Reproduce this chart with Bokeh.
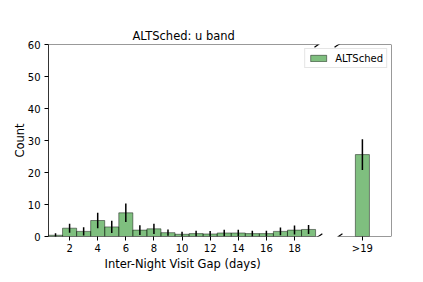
from bokeh.plotting import figure
from bokeh.models import Range1d, FixedTicker, Title, Arrow, ColumnDataSource
from bokeh.embed import file_html
from bokeh.resources import INLINE

# ---- data ----
gap_days = [1, 2, 3, 4, 5, 6, 7, 8, 9, 10, 11, 12, 13, 14, 15, 16, 17, 18, 19]
counts = [0.4, 2.6, 1.6, 5.0, 3.0, 7.4, 2.0, 2.4, 1.2, 0.7, 0.9, 0.8, 1.1, 1.1, 0.9, 0.9, 1.6, 2.0, 2.2]
count_err = [0.6, 1.4, 1.3, 2.4, 1.9, 2.9, 1.5, 1.6, 1.0, 0.8, 0.9, 0.9, 1.0, 1.0, 0.9, 0.9, 1.2, 1.4, 1.4]
over_label = ">19"
over_count = [25.6]
over_err = [4.8]
x_ticks = [2, 4, 6, 8, 10, 12, 14, 16, 18]
y_ticks = [0, 10, 20, 30, 40, 50, 60]

# ---- layout of the broken axis (data units) ----
LEFT_MIN, LEFT_MAX = 0.5, 19.7      # left panel
RIGHT_MIN, RIGHT_MAX = 21.13, 24.9  # right panel
OVER_POS = 22.83                    # position of the overflow bin
Y_MIN, Y_MAX = 0, 60
FONT = "DejaVu Sans"

p = figure(width=423, height=282, output_backend="svg", toolbar_location=None,
           x_range=Range1d(LEFT_MIN, RIGHT_MAX), y_range=Range1d(Y_MIN, Y_MAX),
           min_border_left=48, min_border_right=32, min_border_top=44, min_border_bottom=46)
p.outline_line_color = None
p.grid.visible = False
p.background_fill_color = "white"
p.border_fill_color = "white"

src = ColumnDataSource(dict(x=gap_days, top=counts,
                            lo=[c - e for c, e in zip(counts, count_err)],
                            hi=[c + e for c, e in zip(counts, count_err)]))
osrc = ColumnDataSource(dict(x=[OVER_POS], top=over_count,
                             lo=[c - e for c, e in zip(over_count, over_err)],
                             hi=[c + e for c, e in zip(over_count, over_err)]))

bar_kw = dict(width=1.0, bottom=0, fill_color="green", fill_alpha=0.5,
              line_color="black", line_alpha=0.45, line_width=1)
p.vbar(x="x", top="top", source=src, legend_label="ALTSched", **bar_kw)
p.vbar(x="x", top="top", source=osrc, **bar_kw)
p.segment(x0="x", y0="lo", x1="x", y1="hi", source=src, line_color="black", line_width=1.5)
p.segment(x0="x", y0="lo", x1="x", y1="hi", source=osrc, line_color="black", line_width=1.5)

# axes
xa = p.xaxis[0]
xa.ticker = FixedTicker(ticks=x_ticks + [OVER_POS])
xa.major_label_overrides = {OVER_POS: over_label}
xa.axis_line_color = None
xa.minor_tick_line_color = None
xa.major_tick_in = 0
xa.major_tick_out = 4
xa.major_tick_line_color = "black"
xa.major_label_standoff = 2
xa.major_label_text_font = FONT
xa.major_label_text_font_size = "10px"
xa.major_label_text_color = "black"

ya = p.yaxis[0]
ya.ticker = FixedTicker(ticks=y_ticks)
ya.axis_line_color = "black"
ya.axis_line_width = 0.8
ya.minor_tick_line_color = None
ya.major_tick_in = 0
ya.major_tick_out = 4
ya.major_tick_line_color = "black"
ya.major_label_standoff = 4
ya.major_label_text_font = FONT
ya.major_label_text_font_size = "10px"
ya.major_label_text_color = "black"
ya.axis_label = "Count"
ya.axis_label_text_font = FONT
ya.axis_label_text_font_size = "11.5px"
ya.axis_label_text_font_style = "normal"
ya.axis_label_text_color = "black"
ya.axis_label_standoff = -2

# spines of the two panels
spine = dict(end=None, line_color="black", line_width=0.8)
for (x0, y0, x1, y1) in [(LEFT_MIN, Y_MAX, LEFT_MAX, Y_MAX), (LEFT_MIN, Y_MIN, LEFT_MAX, Y_MIN),
                         (RIGHT_MIN, Y_MAX, RIGHT_MAX, Y_MAX), (RIGHT_MIN, Y_MIN, RIGHT_MAX, Y_MIN),
                         (RIGHT_MAX, Y_MIN, RIGHT_MAX, Y_MAX)]:
    p.add_layout(Arrow(x_start=x0, y_start=y0, x_end=x1, y_end=y1, **spine))

# break marks
dx, dy = 0.28, 0.85
for cx in (LEFT_MAX, RIGHT_MIN):
    for cy in (Y_MIN, Y_MAX):
        p.add_layout(Arrow(x_start=cx - dx, y_start=cy - dy, x_end=cx + dx, y_end=cy + dy,
                           end=None, line_color="black", line_width=1.2))

p.add_layout(Title(text="ALTSched: u band", align="left", offset=84, standoff=4,
                   text_font=FONT, text_font_size="11.5px", text_font_style="normal",
                   text_color="black"), "above")
p.add_layout(Title(text="Inter-Night Visit Gap (days)", align="left", offset=56, standoff=-3,
                   text_font=FONT, text_font_size="11.5px", text_font_style="normal",
                   text_color="black"), "below")

lg = p.legend[0]
lg.location = "top_right"
lg.margin = 4
lg.padding = 3
lg.spacing = 0
lg.glyph_width = 20
lg.glyph_height = 8
lg.label_height = 12
lg.label_standoff = 7
lg.label_text_font = FONT
lg.label_text_font_size = "10px"
lg.label_text_color = "black"
lg.border_line_color = "#cccccc"
lg.border_line_width = 1
lg.background_fill_alpha = 0.8

open("out.html", "w").write(file_html(p, INLINE))
